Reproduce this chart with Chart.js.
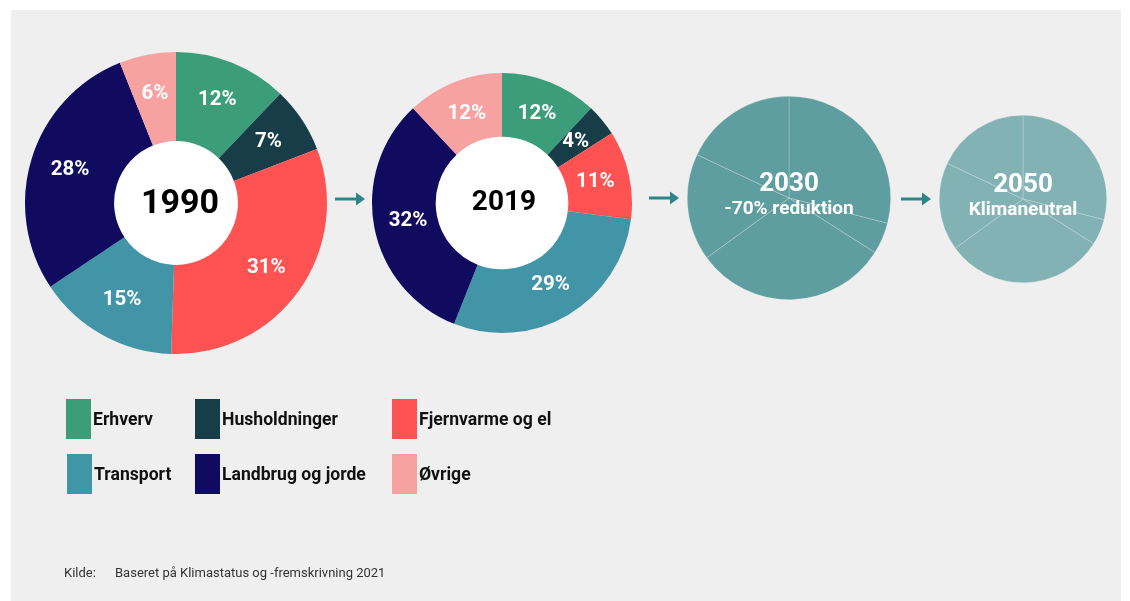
<!DOCTYPE html>
<html><head><meta charset="utf-8">
<script src="https://cdn.jsdelivr.net/npm/chart.js@4"></script>
<style>
html,body{margin:0;padding:0;background:#fff;width:1130px;height:601px;overflow:hidden;font-family:Roboto,sans-serif;}
#panel{position:absolute;left:11px;top:10px;width:1110px;height:591px;background:#efefef;}
canvas{position:absolute;}
.leg{position:absolute;display:flex;align-items:center;font-weight:700;font-size:17.6px;color:#111;}
.leg span.sw{display:inline-block;width:25px;height:40px;margin-right:2px;}
#src{position:absolute;left:64px;top:565px;font-size:13px;color:#333;}
#src b{font-weight:400;display:inline-block;width:51px;}
svg{position:absolute;left:0;top:0;}
</style></head>
<body>
<div id="panel"></div>
<canvas id="c1990" width="304" height="304" style="left:24px;top:51px"></canvas>
<canvas id="c2019" width="262" height="262" style="left:371px;top:72px"></canvas>
<canvas id="c2030" width="206" height="206" style="left:686px;top:95px"></canvas>
<canvas id="c2050" width="170" height="170" style="left:938px;top:114px"></canvas>
<svg width="1130" height="601">
  <g fill="#2e8486" stroke="#2e8486">
    <line x1="335" y1="199" x2="357" y2="199" stroke-width="3"/>
    <polygon points="356,192.5 365,199 356,205.5" stroke="none"/>
    <line x1="649" y1="198" x2="671" y2="198" stroke-width="3"/>
    <polygon points="670,191.5 679,198 670,204.5" stroke="none"/>
    <line x1="901" y1="199" x2="923" y2="199" stroke-width="3"/>
    <polygon points="922,192.5 931,199 922,205.5" stroke="none"/>
  </g>
</svg>
<div id="legend"></div>
<div id="src"><b>Kilde:</b>Baseret på Klimastatus og -fremskrivning 2021</div>
<script>
const categories = ['Erhverv','Husholdninger','Fjernvarme og el','Transport','Landbrug og jorde','Øvrige'];
const colors = ['#3c9d7b','#173e48','#ff5252','#4295a6','#110b60','#f7a1a1'];
const values1990 = [12,7,31,15,28,6];
const values2019 = [12,4,11,29,32,12];
const futureSegments = [29,5,31,17,18];
const futureTitles = ['2030','2050'];
const futureSubtitles = ['-70% reduktion','Klimaneutral'];

// legend
const legPos = [[66,399],[195,399],[392,399],[67,454],[195,454],[392,454]];
const legend = document.getElementById('legend');
categories.forEach((c,i)=>{
  const d=document.createElement('div');
  d.className='leg';
  d.style.left=legPos[i][0]+'px'; d.style.top=legPos[i][1]+'px';
  d.innerHTML='<span class="sw" style="background:'+colors[i]+'"></span>'+c;
  legend.appendChild(d);
});

const pctLabels = {
  id:'pctLabels',
  afterDatasetsDraw(chart, args, opts){
    if(!opts.show) return;
    const ctx=chart.ctx;
    const meta=chart.getDatasetMeta(0);
    ctx.save();
    ctx.fillStyle='#fff';
    ctx.font='700 20.5px Roboto';
    ctx.textAlign='center'; ctx.textBaseline='middle';
    meta.data.forEach((arc,i)=>{
      const mid=(arc.startAngle+arc.endAngle)/2;
      const r=arc.outerRadius*0.735;
      ctx.fillText(chart.data.datasets[0].data[i]+'%', arc.x+Math.cos(mid)*r, arc.y+Math.sin(mid)*r);
    });
    ctx.restore();
  }
};
const centerText = {
  id:'centerText',
  beforeDatasetsDraw(chart, args, opts){
    const meta=chart.getDatasetMeta(0);
    const a=meta.data[0];
    if(opts.white && a.innerRadius>0){
      const ctx=chart.ctx;
      ctx.save(); ctx.fillStyle='#fff';
      ctx.beginPath(); ctx.arc(a.x,a.y,a.innerRadius+1,0,Math.PI*2); ctx.fill(); ctx.restore();
    }
  },
  afterDatasetsDraw(chart, args, opts){
    const meta=chart.getDatasetMeta(0);
    const a=meta.data[0];
    const ctx=chart.ctx;
    ctx.save();
    ctx.textAlign='center'; ctx.textBaseline='middle';
    ctx.fillStyle=opts.color;
    ctx.font='700 '+opts.size+'px Roboto';
    ctx.fillText(opts.title, a.x+(opts.dx||0), a.y+(opts.dy||0));
    if(opts.sub){
      ctx.font='700 '+opts.subSize+'px Roboto';
      ctx.fillText(opts.sub, a.x, a.y+opts.subDy);
    }
    ctx.restore();
  }
};

function makeChart(id, data, bg, cutout, border, center, showPct){
  return new Chart(document.getElementById(id), {
    type:'doughnut',
    data:{labels: data.map((_,i)=>categories[i]||''), datasets:[{data:data, backgroundColor:bg,
      borderWidth:border?0.6:0, borderColor:border||'transparent', hoverOffset:0}]},
    options:{responsive:false, animation:false, cutout:cutout,
      layout:{padding:1},
      events:[],
      plugins:{legend:{display:false}, tooltip:{enabled:false},
        pctLabels:{show:showPct}, centerText:center}},
    plugins:[pctLabels, centerText]
  });
}

makeChart('c1990', values1990, colors, '41%', null,
  {title:'1990', size:34, color:'#000', white:true, dx:4, dy:1}, true);
makeChart('c2019', values2019, colors, '51%', null,
  {title:'2019', size:28, color:'#000', white:true, dx:2, dy:0}, true);
makeChart('c2030', futureSegments, '#5f9ea0', 0, 'rgba(255,255,255,0.35)',
  {title:futureTitles[0], size:26, color:'#fff', dy:-14, sub:futureSubtitles[0], subSize:19, subDy:11}, false);
makeChart('c2050', futureSegments, 'rgba(95,158,160,0.75)', 0, 'rgba(255,255,255,0.35)',
  {title:futureTitles[1], size:26, color:'#fff', dy:-14, sub:futureSubtitles[1], subSize:19, subDy:11}, false);
</script>
</body></html>
